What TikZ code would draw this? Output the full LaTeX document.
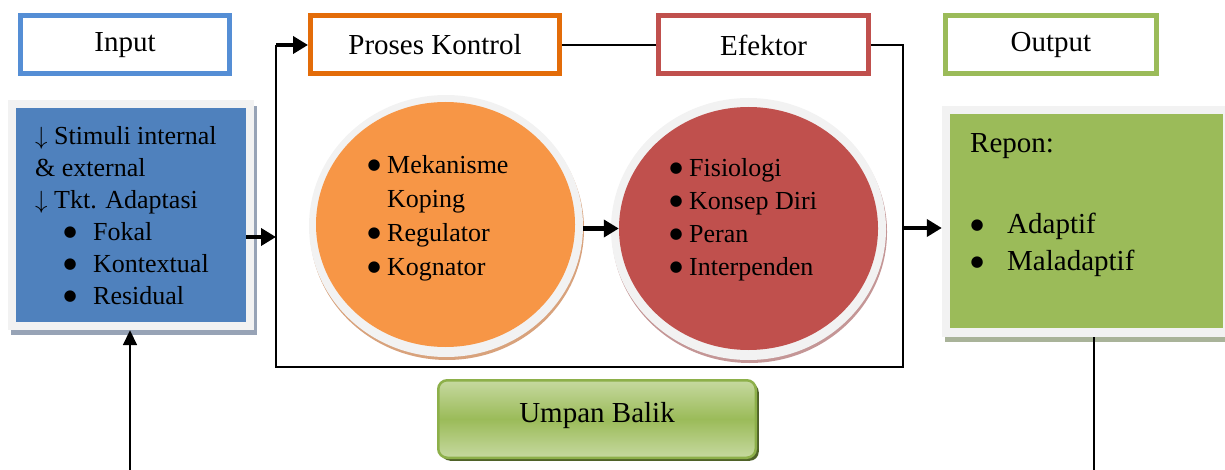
\documentclass[tikz,border=0pt]{standalone}
\usepackage{fontspec}
\setmainfont{Liberation Serif}
\newfontfamily\symfont{DejaVu Sans}
\usetikzlibrary{arrows.meta,shapes.geometric,shadows}
\definecolor{inblue}{HTML}{558ED5}
\definecolor{boxblue}{HTML}{4F81BD}
\definecolor{orangeb}{HTML}{E36C09}
\definecolor{redb}{HTML}{C0504D}
\definecolor{greenb}{HTML}{9BBB59}
\definecolor{orangef}{HTML}{F79646}
\definecolor{framegray}{HTML}{F2F2F2}
\definecolor{shblue}{HTML}{97A3B6}
\definecolor{shgreen}{HTML}{A9B399}
\definecolor{shorange}{HTML}{D8A27C}
\definecolor{shred}{HTML}{C49696}
\definecolor{ubborder}{HTML}{8DB04A}
\definecolor{ubtop}{HTML}{C6D9A0}
\definecolor{ubshadow}{HTML}{4F6228}
% zero-width large bullet centred on the current point
\newcommand\bdot{\makebox[0pt][c]{\raisebox{4.5pt}{\fontsize{15}{15}\symfont ●}}}
\newcommand\bulA[1]{\hspace*{35pt}\bdot\hspace*{23pt}#1}
\newcommand\bulB[1]{\hspace*{7pt}\bdot\hspace*{30pt}#1}
\newcommand\bulC[1]{\hspace*{5pt}\bdot\hspace*{13pt}#1}
\begin{document}
\begin{tikzpicture}[x=1pt,y=-1pt,
  hdr/.style={draw, line width=5pt, fill=white, minimum height=58pt, inner sep=0pt,
    font=\fontsize{29}{34}\selectfont},
  panel/.style={inner sep=0pt},
  oval/.style={ellipse, inner sep=0pt},
  txtS/.style={inner sep=0pt, align=left, font=\fontsize{26}{32}\selectfont},
  txtL/.style={inner sep=0pt, align=left, font=\fontsize{29}{37}\selectfont},
  thinline/.style={line width=1.8pt},
  thinarrow/.style={line width=1.8pt, -{Triangle[length=15pt,width=14pt]}},
  thickarrow/.style={line width=4.5pt, -{Triangle[length=15pt,width=17pt]}},
  ub/.style={draw=ubborder, line width=2.5pt, rounded corners=9pt,
    top color=ubtop, bottom color=ubtop, middle color=greenb,
    minimum width=317.5pt, minimum height=77.5pt, inner sep=0pt,
    text height=20pt, text depth=14pt,
    font=\fontsize{29}{34}\selectfont,
    drop shadow={shadow xshift=3pt, shadow yshift=-3pt, fill=ubshadow, opacity=1}}
]
\useasboundingbox (0,0) rectangle (1225,470);

% header boxes
\node[hdr, draw=inblue, minimum width=209pt] (inp) at (125,45) {Input};
\node[hdr, draw=orangeb, minimum width=249pt] (pk) at (435,45) {Proses Kontrol};
\node[hdr, draw=redb, minimum width=210pt] (ef) at (763.5,45) {Efektor};
\node[hdr, draw=greenb, minimum width=211pt] (out) at (1051,45) {Output};

% input panel
\fill[shblue] (11,106) rectangle (257,335);
\node[panel, fill=framegray, minimum width=246pt, minimum height=230pt] (inf) at (131,215) {};
\node[panel, fill=boxblue, minimum width=230pt, minimum height=214pt] (inb) at (131,215) {};
\node[txtS, anchor=west] (stim) at (35,216)
  {$\downarrow$~Stimuli internal\\ \& external\\ $\downarrow$~Tkt. Adaptasi\\
   \bulA{Fokal}\\ \bulA{Kontextual}\\ \bulA{Residual}};

% output panel
\fill[shgreen] (945,337) rectangle (1226,342);
\node[panel, fill=framegray, minimum width=284pt, minimum height=231pt] (outf) at (1084,221.5) {};
\node[panel, fill=greenb, minimum width=273pt, minimum height=214pt] (resp) at (1086.5,221) {};
\node[txtL, anchor=west] (repon) at (970,146) {Repon:};
\node[txtL, anchor=west] (resl) at (970,245) {\bulB{Adaptif}\\ \bulB{Maladaptif}};

% ellipses
\node[oval, fill=shorange, minimum width=274pt, minimum height=262pt] (oes) at (447,229) {};
\node[oval, fill=framegray, minimum width=274pt, minimum height=262pt] (oer) at (446,226) {};
\node[oval, fill=orangef, minimum width=259pt, minimum height=245pt] (oe) at (445.5,224.5) {};
\node[txtS, anchor=west, font=\fontsize{26}{34}\selectfont] (oet) at (369,218.5)
  {\bulC{Mekanisme}\\ \hspace*{18pt}Koping\\ \bulC{Regulator}\\ \bulC{Kognator}};

\node[oval, fill=shred, minimum width=275pt, minimum height=262pt] (res) at (749.5,232) {};
\node[oval, fill=framegray, minimum width=275pt, minimum height=262pt] (rer) at (748.5,229) {};
\node[oval, fill=redb, minimum width=259pt, minimum height=243pt] (re) at (748.5,228.5) {};
\node[txtS, anchor=west, font=\fontsize{26}{33}\selectfont] (ret) at (671,220)
  {\bulC{Fisiologi}\\ \bulC{Konsep Diri}\\ \bulC{Peran}\\ \bulC{Interpenden}};

% feedback box
\node[ub] (ubx) at (597,419) {Umpan Balik};

% loop coordinates
\coordinate (lt) at (276,45);
\coordinate (lb) at (276,367);
\coordinate (rb) at (903,367);
\coordinate (rt) at (903,45);
\coordinate (lm) at (276,237);
\coordinate (rm) at (903,228);
\coordinate (ib) at (130,470);
\coordinate (ob) at (1094,470);

% connectors
\draw[thinline] (pk.east) -- (ef.west);
\draw[thinline] (ef.east) -- (rt) -- (rb) -- (lb) -- (lt);
\draw[thickarrow] (lt) -- (pk.west);
\draw[thickarrow] (inb.east |- lm) -- (lm);
\draw[thickarrow] (oer.east |- re.west) -- (re.west);
\draw[thickarrow] (rm) -- (outf.west |- rm);
\draw[thinarrow] (ib) -- (inf.south -| ib);
\draw[thinline] (outf.south -| ob) -- (ob);
\end{tikzpicture}
\end{document}
